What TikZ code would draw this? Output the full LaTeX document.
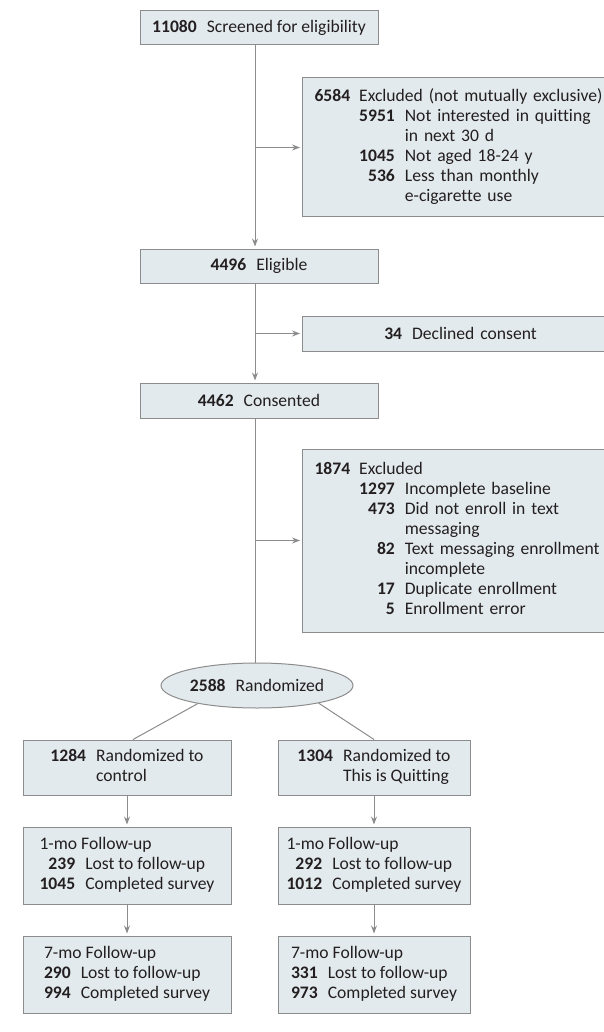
\documentclass[tikz,border=0pt]{standalone}
\usepackage{fontspec}
\setmainfont{Carlito}[Ligatures=NoCommon]
\usetikzlibrary{arrows.meta,shapes.geometric}
\definecolor{boxfill}{HTML}{E3EAED}
\definecolor{boxline}{HTML}{8C8C8C}
\definecolor{ink}{HTML}{231F20}
\newcommand{\cnt}[1]{\textbf{#1}}
\begin{document}
\begin{tikzpicture}[x=0.5pt,y=-0.5pt,
    box/.style={draw=boxline,fill=boxfill,line width=0.5pt,text=ink,
      font=\fontsize{8.8}{10}\selectfont,inner sep=0pt},
    side/.style={box,anchor=west,align=left,text width=146pt,inner xsep=6pt},
    arr/.style={draw=boxline,line width=0.5pt,-{Stealth[length=4pt,width=3pt]},shorten >=1pt},
    link/.style={draw=boxline,line width=0.5pt}]
  \useasboundingbox (0,0) rectangle (604,1032);
  % main column
  \node[box,minimum width=119pt,minimum height=17pt] (scr) at (259,28)
    {\cnt{11080}\hspace{5pt}Screened for eligibility};
  \node[box,minimum width=119pt,minimum height=17pt] (elig) at (259,266)
    {\cnt{4496}\hspace{5pt}Eligible};
  \node[box,minimum width=119pt,minimum height=17.5pt] (cons) at (259,400.5)
    {\cnt{4462}\hspace{5pt}Consented};
  \node[box,ellipse,minimum width=96pt,minimum height=22.5pt] (rand) at (257,685.5)
    {\cnt{2588}\hspace{5pt}Randomized};
  % exclusions
  \node[side,minimum height=69.5pt] (excl1) at (302,147.5) {%
    \begin{tabular}{@{}r@{\hspace{4.5pt}}r@{\hspace{5pt}}l@{}}
      \cnt{6584} & \multicolumn{2}{@{}l@{}}{Excluded (not mutually exclusive)}\\
      & \cnt{5951} & Not interested in quitting\\
      & & in next 30 d\\
      & \cnt{1045} & Not aged 18-24 y\\
      & \cnt{536} & Less than monthly\\
      & & e-cigarette use
    \end{tabular}};
  \node[side,align=center,minimum height=17.5pt] (decl) at (302,333.5)
    {\cnt{34}\hspace{5pt}Declined consent};
  \node[side,minimum height=91.5pt] (excl2) at (302,540.5) {%
    \begin{tabular}{@{}r@{\hspace{4.5pt}}r@{\hspace{5pt}}l@{}}
      \cnt{1874} & \multicolumn{2}{@{}l@{}}{Excluded}\\
      & \cnt{1297} & Incomplete baseline\\
      & \cnt{473} & Did not enroll in text\\
      & & messaging\\
      & \cnt{82} & Text messaging enrollment\\
      & & incomplete\\
      & \cnt{17} & Duplicate enrollment\\
      & \cnt{5} & Enrollment error
    \end{tabular}};
  % arms
  \node[box,minimum width=104pt,minimum height=27.5pt] (ctrl) at (127,767.5)
    {\begin{tabular}{@{}r@{\hspace{5pt}}l@{}}\cnt{1284} & Randomized to\\ & control\end{tabular}};
  \node[box,minimum width=96pt,minimum height=27.5pt] (itq) at (374,767.5)
    {\begin{tabular}{@{}r@{\hspace{5pt}}l@{}}\cnt{1304} & Randomized to\\ & This is Quitting\end{tabular}};
  \node[box,minimum width=104pt,minimum height=38.5pt] (ctrlA) at (127,865.5)
    {\begin{tabular}{@{}r@{\hspace{5pt}}l@{}}\multicolumn{2}{@{}l@{}}{1-mo Follow-up}\\
      \cnt{239} & Lost to follow-up\\ \cnt{1045} & Completed survey\end{tabular}};
  \node[box,minimum width=96pt,minimum height=38.5pt] (itqA) at (374,865.5)
    {\begin{tabular}{@{}r@{\hspace{5pt}}l@{}}\multicolumn{2}{@{}l@{}}{1-mo Follow-up}\\
      \cnt{292} & Lost to follow-up\\ \cnt{1012} & Completed survey\end{tabular}};
  \node[box,minimum width=104pt,minimum height=38.5pt] (ctrlB) at (127,974.5)
    {\begin{tabular}{@{}r@{\hspace{5pt}}l@{}}\multicolumn{2}{@{}l@{}}{7-mo Follow-up}\\
      \cnt{290} & Lost to follow-up\\ \cnt{994} & Completed survey\end{tabular}};
  \node[box,minimum width=96pt,minimum height=38.5pt] (itqB) at (374,974.5)
    {\begin{tabular}{@{}r@{\hspace{5pt}}l@{}}\multicolumn{2}{@{}l@{}}{7-mo Follow-up}\\
      \cnt{331} & Lost to follow-up\\ \cnt{973} & Completed survey\end{tabular}};
  % connectors
  \coordinate (spine) at (255,0);
  \draw[arr] (scr.south -| spine) -- (elig.north -| spine);
  \draw[arr] (elig.south -| spine) -- (cons.north -| spine);
  \draw[link] (cons.south -| spine) -- (rand.north -| spine);
  \foreach \b in {excl1,decl,excl2}
    \draw[arr] (\b.west -| spine) -- (\b.west);
  \draw[link] (rand.197) -- ([xshift=3pt]ctrl.north);
  \draw[link] (rand.344) -- (itq.north);
  \foreach \a/\b in {ctrl/ctrlA,ctrlA/ctrlB,itq/itqA,itqA/itqB}
    \draw[arr] (\a) -- (\b);
\end{tikzpicture}
\end{document}
